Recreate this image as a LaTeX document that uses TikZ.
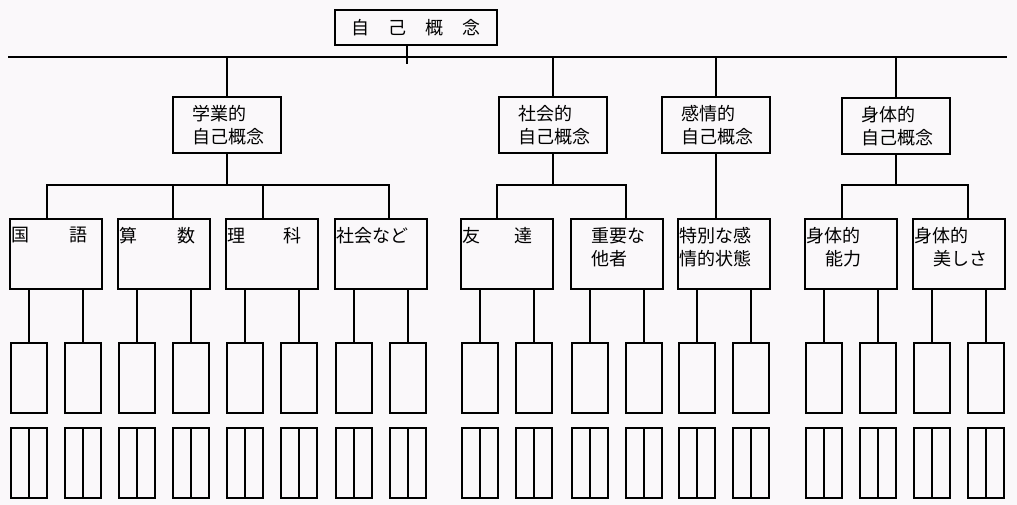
\documentclass[tikz,border=0pt]{standalone}
\usepackage{fontspec}
\newfontfamily\jpfont{Noto Sans CJK JP}
\definecolor{paper}{RGB}{250,248,250}
\begin{document}
\begin{tikzpicture}[x=1pt,y=-1pt,line width=2pt,
  every node/.style={font=\jpfont\fontsize{18}{23}\selectfont},
  topbox/.style={draw,minimum width=162pt,minimum height=35pt,inner sep=0pt},
  midbox/.style={draw,minimum width=108pt,minimum height=56pt,inner sep=0pt,text width=70pt,align=left},
  subbox/.style={draw,minimum width=92pt,minimum height=70pt,inner sep=0pt},
  cell/.style={draw,minimum width=36pt,minimum height=70pt,inner sep=0pt},
  lbl/.style={anchor=north west,inner sep=0pt,align=left,xshift=1pt,yshift=-8pt}]
\useasboundingbox[fill=paper] (0,0) rectangle (1017,505);

\node[topbox] (self) at (416,27.5) {自\hspace{19pt}己\hspace{19pt}概\hspace{19pt}念};
\coordinate (L) at (8,57);
\coordinate (R) at (1007,57);
\draw (L) -- (R);
\draw ([xshift=-9pt]self.south) -- ++(0,18);

\node[midbox] (gaku) at (227,125) {学業的\\自己概念};
\node[midbox] (shakai) at (553,125) {社会的\\自己概念};
\node[midbox] (kanjo) at (716,125) {感情的\\自己概念};
\node[midbox] (shintai) at (896,126) {身体的\\自己概念};
\foreach \n in {gaku,shakai,kanjo,shintai} \draw (\n.north) -- (\n.north |- L);

\node[subbox,label={[lbl]north west:国\hspace{41pt}語}] (kokugo) at (56,254) {};
\node[subbox,label={[lbl]north west:算\hspace{41pt}数}] (sansu) at (164,254) {};
\node[subbox,label={[lbl]north west:理\hspace{39pt}科}] (rika) at (272,254) {};
\node[subbox,label={[lbl]north west:社会など}] (shakainado) at (381,254) {};
\node[subbox,label={[lbl]north west:友\hspace{35pt}達}] (tomo) at (507,254) {};
\node[subbox,label={[lbl]north west:\hspace*{19pt}重要な\\\hspace*{19pt}他者}] (tasha) at (617,254) {};
\node[subbox,label={[lbl]north west:特別な感\\情的状態}] (tokubetsu) at (724,254) {};
\node[subbox,label={[lbl]north west:身体的\\\hspace*{19pt}能力}] (noryoku) at (851,254) {};
\node[subbox,label={[lbl]north west:身体的\\\hspace*{19pt}美しさ}] (utsukushisa) at (959,254) {};

\coordinate (gb) at (227,185);
\draw (gaku.south) -- (gb);
\draw ([xshift=-9pt]kokugo.north) |- (gb) -| ([xshift=8pt]shakainado.north);
\draw ([xshift=9pt]sansu.north) -- ++(0,-34);
\draw ([xshift=-9pt]rika.north) -- ++(0,-34);
\coordinate (sb) at (553,185);
\draw (shakai.south) -- (sb);
\draw ([xshift=-10pt]tomo.north) |- (sb) -| ([xshift=9pt]tasha.north);
\draw (kanjo.south) -- (kanjo.south |- tokubetsu.north);
\coordinate (pb) at (896,185);
\draw (shintai.south) -- (pb);
\draw ([xshift=-9pt]noryoku.north) |- (pb) -| ([xshift=9pt]utsukushisa.north);

\foreach \n in {kokugo,sansu,rika,shakainado,tomo,tasha,tokubetsu,noryoku,utsukushisa} {
  \path (\n.south) ++(-27,88) node[cell] (\n-a) {};
  \path (\n.south) ++(27,88) node[cell] (\n-b) {};
  \path (\n.south) ++(-27,173) node[cell] (\n-c) {};
  \path (\n.south) ++(27,173) node[cell] (\n-d) {};
  \draw (\n-a.north |- \n.south) -- (\n-a.north);
  \draw (\n-b.north |- \n.south) -- (\n-b.north);
  \draw (\n-c.north) -- (\n-c.south);
  \draw (\n-d.north) -- (\n-d.south);
}
\end{tikzpicture}
\end{document}
